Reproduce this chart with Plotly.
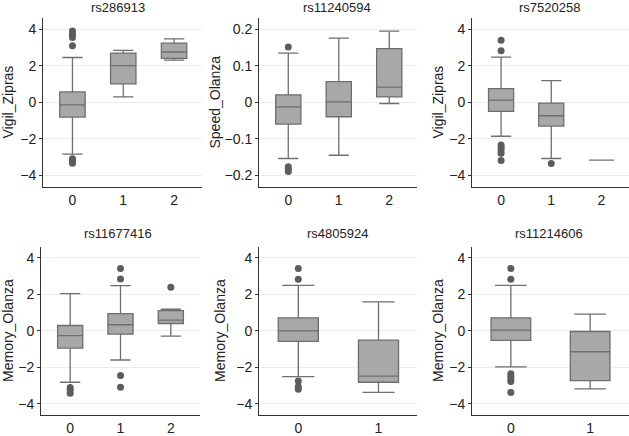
import plotly.graph_objects as go

# ---- data ----
titles = ["rs286913", "rs11240594", "rs7520258", "rs11677416", "rs4805924", "rs11214606"]
ylabels = ["Vigil_Zipras", "Speed_Olanza", "Vigil_Zipras", "Memory_Olanza", "Memory_Olanza", "Memory_Olanza"]

p1_x = [0, 1, 2]
p1_lower = [-2.85, 0.29, 2.31]
p1_q1 = [-0.82, 1.0, 2.4]
p1_med = [-0.15, 2.0, 2.75]
p1_q3 = [0.56, 2.69, 3.24]
p1_upper = [2.45, 2.84, 3.47]
p1_out_x = [0, 0, 0, 0, 0, 0, 0]
p1_out_y = [3.9, 3.73, 3.55, 3.1, -3.1, -3.2, -3.35]

p2_x = [0, 1, 2]
p2_lower = [-0.1545, -0.1455, -0.0036]
p2_q1 = [-0.06, -0.04, 0.0145]
p2_med = [-0.0127, 0.001, 0.041]
p2_q3 = [0.02, 0.0564, 0.147]
p2_upper = [0.1345, 0.1755, 0.195]
p2_out_x = [0, 0, 0, 0]
p2_out_y = [0.151, -0.177, -0.184, -0.19]

p3_x = [0, 1, 2]
p3_lower = [-1.87, -3.09, -3.18]
p3_q1 = [-0.51, -1.31, -3.18]
p3_med = [0.11, -0.745, -3.18]
p3_q3 = [0.745, -0.05, -3.18]
p3_upper = [2.47, 1.18, -3.18]
p3_out_x = [0, 0, 0, 0, 0, 0, 0, 1]
p3_out_y = [3.4, 2.82, -2.35, -2.47, -2.62, -2.8, -3.2, -3.36]

p4_x = [0, 1, 2]
p4_lower = [-2.82, -1.6, -0.29]
p4_q1 = [-0.95, -0.18, 0.4]
p4_med = [-0.27, 0.33, 0.58]
p4_q3 = [0.29, 0.945, 1.11]
p4_upper = [2.04, 2.47, 1.18]
p4_out_x = [0, 0, 0, 1, 1, 1, 1, 2]
p4_out_y = [-3.11, -3.24, -3.42, 3.42, 2.84, -2.45, -3.09, 2.38]

p5_x = [0, 1]
p5_lower = [-2.51, -3.38]
p5_q1 = [-0.58, -2.82]
p5_med = [0.0, -2.49]
p5_q3 = [0.71, -0.51]
p5_upper = [2.49, 1.58]
p5_out_x = [0, 0, 0, 0, 0]
p5_out_y = [3.42, 2.82, -2.75, -3.07, -3.2]

p6_x = [0, 1]
p6_lower = [-1.98, -3.18]
p6_q1 = [-0.53, -2.73]
p6_med = [0.04, -1.15]
p6_q3 = [0.71, -0.04]
p6_upper = [2.49, 0.91]
p6_out_x = [0, 0, 0, 0, 0, 0, 0]
p6_out_y = [3.42, 2.82, -2.36, -2.51, -2.64, -2.78, -3.38]

panels = [
    (p1_x, p1_lower, p1_q1, p1_med, p1_q3, p1_upper, p1_out_x, p1_out_y),
    (p2_x, p2_lower, p2_q1, p2_med, p2_q3, p2_upper, p2_out_x, p2_out_y),
    (p3_x, p3_lower, p3_q1, p3_med, p3_q3, p3_upper, p3_out_x, p3_out_y),
    (p4_x, p4_lower, p4_q1, p4_med, p4_q3, p4_upper, p4_out_x, p4_out_y),
    (p5_x, p5_lower, p5_q1, p5_med, p5_q3, p5_upper, p5_out_x, p5_out_y),
    (p6_x, p6_lower, p6_q1, p6_med, p6_q3, p6_upper, p6_out_x, p6_out_y),
]

# ---- layout geometry (pixels) ----
W, H = 629, 436
px_x = [(43, 202), (259, 417), (472, 629), (41, 200), (259, 417), (472, 629)]
px_y = [(18, 188), (18, 188), (18, 188), (248, 417), (248, 417), (248, 417)]
xranges = [[-0.58, 2.55], [-0.58, 2.55], [-0.58, 2.55], [-0.58, 2.58], [-0.49, 1.48], [-0.49, 1.49]]
yranges = [[-4.66, 4.62], [-0.233, 0.231], [-4.66, 4.62], [-4.62, 4.6], [-4.62, 4.6], [-4.62, 4.6]]
ytickvals = [[-4, -2, 0, 2, 4], [-0.2, -0.1, 0, 0.1, 0.2], [-4, -2, 0, 2, 4],
             [-4, -2, 0, 2, 4], [-4, -2, 0, 2, 4], [-4, -2, 0, 2, 4]]
yticktext = [["\u22124", "\u22122", "0", "2", "4"], ["\u22120.2", "\u22120.1", "0", "0.1", "0.2"],
             ["\u22124", "\u22122", "0", "2", "4"], ["\u22124", "\u22122", "0", "2", "4"],
             ["\u22124", "\u22122", "0", "2", "4"], ["\u22124", "\u22122", "0", "2", "4"]]
title_pos = [(118, 8), (337, 8), (549, 8), (118, 235), (337, 235), (549, 235)]
ylab_x = [8, 215, 438, 8, 220, 438]

FONT = "Liberation Sans, Arial, Helvetica, sans-serif"
fill = "#a8a8a8"
edge = "#6e6e6e"
dot = "#5c5c5c"

fig = go.Figure()
layout = dict(
    width=W, height=H, margin=dict(l=0, r=0, t=0, b=0),
    paper_bgcolor="white", plot_bgcolor="white", showlegend=False,
    font=dict(family=FONT, size=13, color="#222"),
    annotations=[],
)

for i, (xs, lo, q1, med, q3, up, ox, oy) in enumerate(panels):
    n = i + 1
    xa = "x" if n == 1 else f"x{n}"
    ya = "y" if n == 1 else f"y{n}"
    fig.add_trace(go.Box(
        x=xs, q1=q1, median=med, q3=q3, lowerfence=lo, upperfence=up,
        width=0.5, whiskerwidth=0.8, fillcolor=fill,
        line=dict(color=edge, width=1.3), boxpoints=False,
        xaxis=xa, yaxis=ya, hoverinfo="skip",
    ))
    fig.add_trace(go.Scatter(
        x=ox, y=oy, mode="markers",
        marker=dict(color=dot, size=7),
        xaxis=xa, yaxis=ya, hoverinfo="skip",
    ))
    x0, x1 = px_x[i]
    y0, y1 = px_y[i]
    layout["xaxis" if n == 1 else f"xaxis{n}"] = dict(
        domain=[x0 / W, x1 / W], anchor=ya, range=xranges[i],
        tickvals=xs, ticktext=[str(v) for v in xs],
        showgrid=False, zeroline=False, showline=True, linecolor="#333", linewidth=1,
        ticks="", tickfont=dict(size=14, color="#222"), fixedrange=True,
    )
    layout["yaxis" if n == 1 else f"yaxis{n}"] = dict(
        domain=[1 - y1 / H, 1 - y0 / H], anchor=xa, range=yranges[i],
        tickvals=ytickvals[i], ticktext=yticktext[i],
        showgrid=True, gridcolor="#ececec", gridwidth=1, zeroline=False,
        showline=True, linecolor="#333", linewidth=1,
        ticks="outside", ticklen=3, tickcolor="#333",
        tickfont=dict(size=14, color="#222"), fixedrange=True,
    )
    tx, ty = title_pos[i]
    layout["annotations"].append(dict(
        text=titles[i], x=tx / W, y=1 - ty / H, xref="paper", yref="paper",
        xanchor="center", yanchor="middle", showarrow=False,
        font=dict(size=13, color="#222"),
    ))
    layout["annotations"].append(dict(
        text=ylabels[i], x=ylab_x[i] / W, y=1 - ((y0 + y1) / 2) / H,
        xref="paper", yref="paper", xanchor="center", yanchor="middle",
        textangle=-90, showarrow=False, font=dict(size=14, color="#222"),
    ))

fig.update_layout(**layout)
fig.write_html(
    "out.html",
    config={"displayModeBar": False},
    post_script="document.body.style.margin='0';document.body.style.padding='0';",
)
